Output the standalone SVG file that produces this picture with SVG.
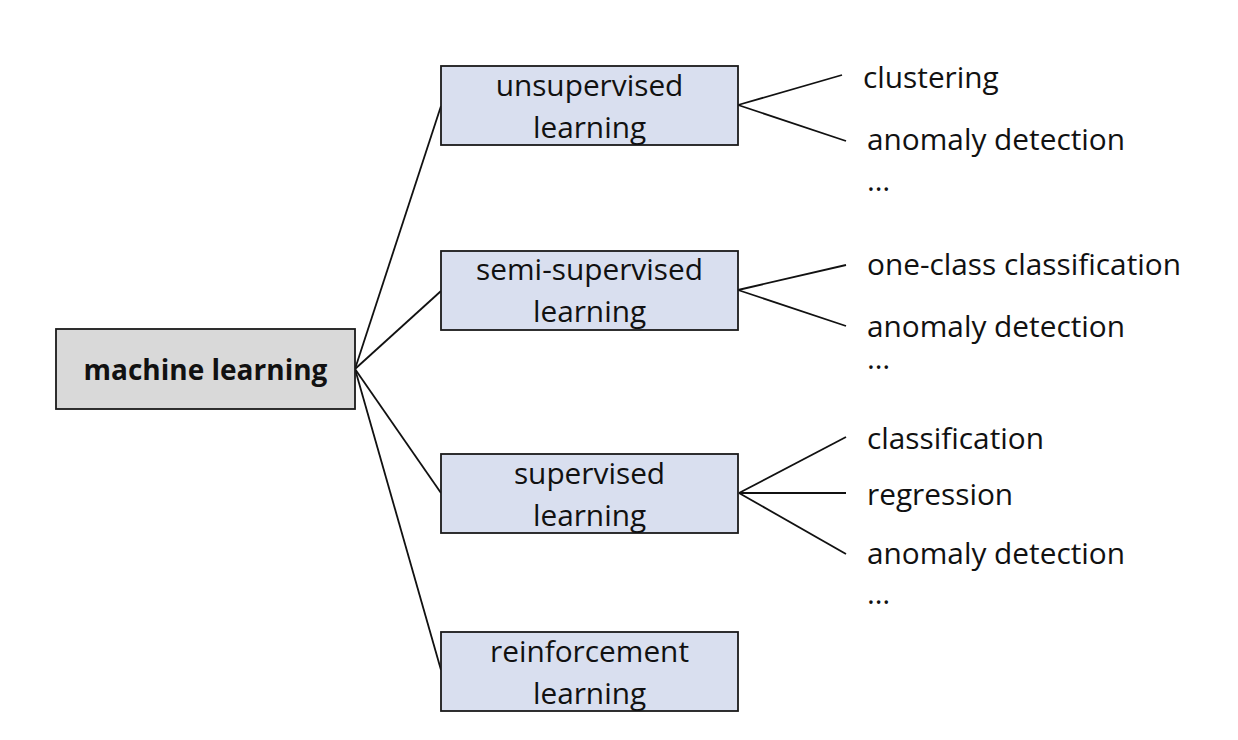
<svg xmlns="http://www.w3.org/2000/svg" width="1238" height="740" viewBox="0 0 1238 740">
<style>
  .box { fill: #D9DFEF; stroke: #1a1a1a; stroke-width: 1.8; }
  .root { fill: #D9D9D9; stroke: #1a1a1a; stroke-width: 1.8; }
  .lbl { font-family: "Open Sans", "Noto Sans", "DejaVu Sans", sans-serif; font-size: 29.8px; fill: #111; }
  .c { text-anchor: middle; }
  .b { font-weight: bold; font-size: 28px; }
  .edge { stroke: #111; stroke-width: 1.8; fill: none; }
</style>
<rect width="1238" height="740" fill="#ffffff"/>
<g id="connectors">
  <line class="edge" x1="355" y1="369" x2="441" y2="106"/>
  <line class="edge" x1="355" y1="369" x2="441" y2="291"/>
  <line class="edge" x1="355" y1="369" x2="441" y2="493"/>
  <line class="edge" x1="355" y1="369" x2="441" y2="670"/>
  <line class="edge" x1="738" y1="105" x2="842" y2="75"/>
  <line class="edge" x1="738" y1="105" x2="846" y2="141"/>
  <line class="edge" x1="738" y1="290" x2="846" y2="265"/>
  <line class="edge" x1="738" y1="290" x2="846" y2="326"/>
  <line class="edge" x1="739" y1="493" x2="846" y2="437"/>
  <line class="edge" x1="739" y1="493" x2="846" y2="493"/>
  <line class="edge" x1="739" y1="493" x2="846" y2="554"/>
</g>
<g id="machine-learning">
  <rect class="root" x="56" y="329" width="299" height="80"/>
  <text class="lbl b c" x="205.5" y="380">machine learning</text>
</g>
<g id="unsupervised">
  <rect class="box" x="441" y="66" width="297" height="79"/>
  <text class="lbl c" x="589.5" y="96">unsupervised</text>
  <text class="lbl c" x="589.5" y="138">learning</text>
</g>
<g id="semi-supervised">
  <rect class="box" x="441" y="251" width="297" height="79"/>
  <text class="lbl c" x="589.5" y="280">semi-supervised</text>
  <text class="lbl c" x="589.5" y="322">learning</text>
</g>
<g id="supervised">
  <rect class="box" x="441" y="454" width="297" height="79"/>
  <text class="lbl c" x="589.5" y="484">supervised</text>
  <text class="lbl c" x="589.5" y="526">learning</text>
</g>
<g id="reinforcement">
  <rect class="box" x="441" y="632" width="297" height="79"/>
  <text class="lbl c" x="589.5" y="662">reinforcement</text>
  <text class="lbl c" x="589.5" y="704">learning</text>
</g>
<g id="unsupervised-tasks">
  <text class="lbl" x="863" y="88">clustering</text>
  <text class="lbl" x="867" y="150">anomaly detection</text>
  <text class="lbl" x="867" y="191">…</text>
</g>
<g id="semi-supervised-tasks">
  <text class="lbl" x="867" y="275">one-class classification</text>
  <text class="lbl" x="867" y="337">anomaly detection</text>
  <text class="lbl" x="867" y="369">…</text>
</g>
<g id="supervised-tasks">
  <text class="lbl" x="867" y="449">classification</text>
  <text class="lbl" x="867" y="505">regression</text>
  <text class="lbl" x="867" y="564">anomaly detection</text>
  <text class="lbl" x="867" y="604">…</text>
</g>
</svg>
